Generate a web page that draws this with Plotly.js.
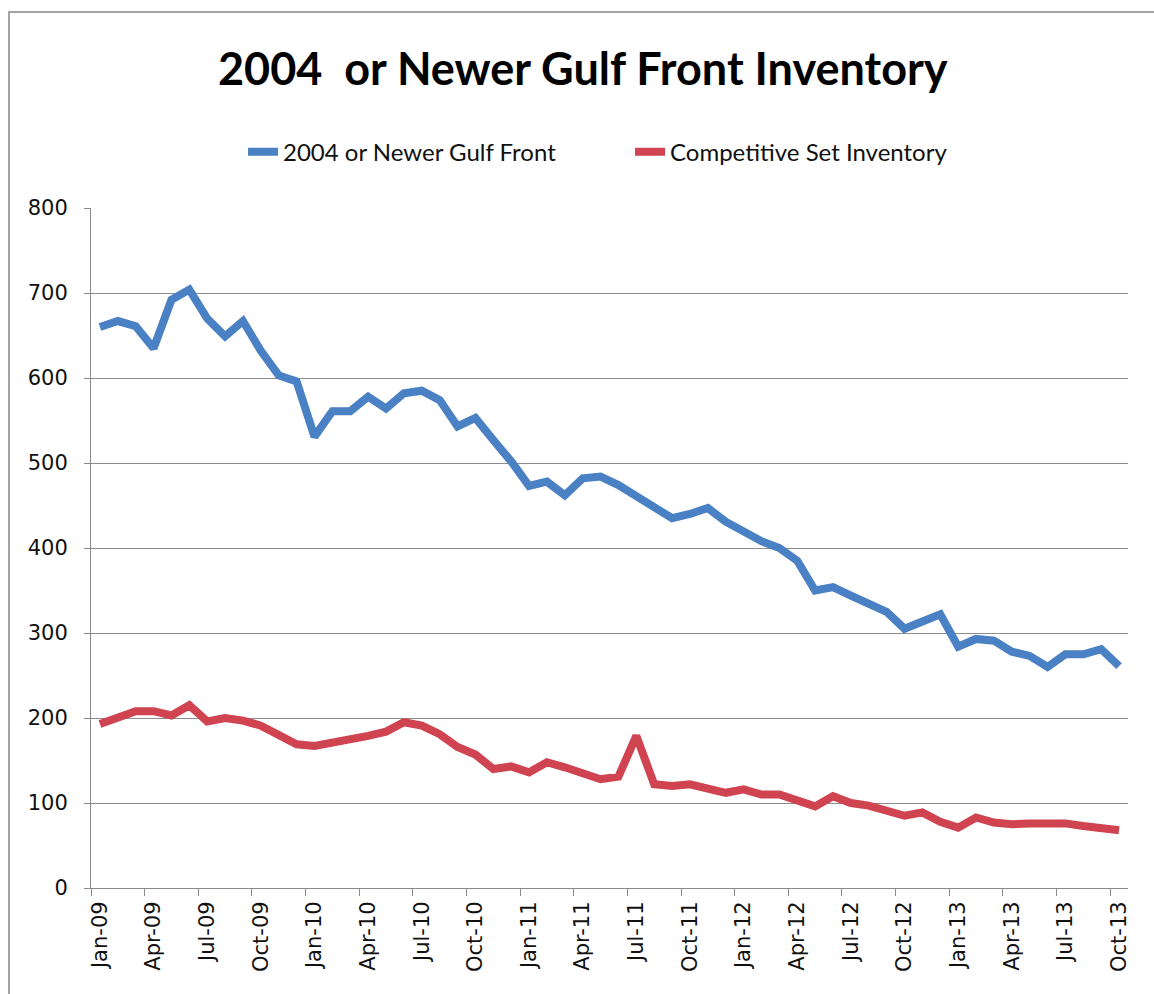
<!DOCTYPE html>
<html>
<head>
<meta charset="utf-8">
<script src="https://cdn.plot.ly/plotly-3.0.1.min.js"></script>
<style>
  html, body { margin: 0; padding: 0; background: #fff; }
  #frame { position: absolute; left: 8px; top: 11px; width: 1160px; height: 1000px; border-left: 2px solid #a3a3a3; border-top: 2px solid #a3a3a3; pointer-events: none; z-index: 5; }
  #chart { position: absolute; left: 0; top: 0; width: 1154px; height: 994px; }
</style>
</head>
<body>
<div id="chart"></div>
<div id="frame"></div>
<script>
const months = [
  "Jan-09","Feb-09","Mar-09","Apr-09","May-09","Jun-09","Jul-09","Aug-09","Sep-09","Oct-09","Nov-09","Dec-09",
  "Jan-10","Feb-10","Mar-10","Apr-10","May-10","Jun-10","Jul-10","Aug-10","Sep-10","Oct-10","Nov-10","Dec-10",
  "Jan-11","Feb-11","Mar-11","Apr-11","May-11","Jun-11","Jul-11","Aug-11","Sep-11","Oct-11","Nov-11","Dec-11",
  "Jan-12","Feb-12","Mar-12","Apr-12","May-12","Jun-12","Jul-12","Aug-12","Sep-12","Oct-12","Nov-12","Dec-12",
  "Jan-13","Feb-13","Mar-13","Apr-13","May-13","Jun-13","Jul-13","Aug-13","Sep-13","Oct-13"
];

const gulfFront2004 = [
  660, 667, 661, 635, 692, 704, 670, 649, 667, 632, 603, 596,
  531, 561, 561, 578, 564, 582, 585, 574, 543, 553, 527, 502,
  473, 478, 462, 482, 484, 474, 461, 447, 435, 440, 447, 431,
  419, 408, 400, 385, 350, 354, 344, 334, 325, 305, 313, 322,
  284, 293, 291, 278, 273, 260, 275, 275, 281, 261
];

const competitiveSet = [
  193, 200, 208, 208, 203, 215, 196, 200, 197, 191, 181, 169,
  167, 171, 173, 179, 184, 195, 191, 181, 166, 157, 140, 143,
  136, 148, 142, 136, 128, 131, 179, 122, 120, 122, 116, 112,
  116, 110, 110, 104, 96, 108, 100, 97, 91, 85, 89, 78,
  71, 83, 77, 75, 76, 77, 76, 73, 71, 68
];

const seriesNames = ["2004 or Newer Gulf Front", "Competitive Set Inventory"];
const yTicks = [0, 100, 200, 300, 400, 500, 600, 700, 800];

const FONT = "Lato, 'Open Sans', sans-serif";
const TICKFONT = "'DejaVu Sans', Verdana, sans-serif";

const traces = [
  {
    x: months, y: gulfFront2004, name: seriesNames[0], type: "scatter", mode: "lines",
    line: { color: "#4a80c4", width: 8, shape: "linear" }
  },
  {
    x: months, y: competitiveSet, name: seriesNames[1], type: "scatter", mode: "lines",
    line: { color: "#cf4450", width: 8, shape: "linear" }
  }
];

const layout = {
  width: 1154, height: 994,
  margin: { l: 91, r: 26, t: 208, b: 106, pad: 0 },
  paper_bgcolor: "#ffffff", plot_bgcolor: "#ffffff",
  font: { family: FONT, color: "#111" },
  title: {
    text: "<b>2004  or Newer Gulf Front Inventory</b>",
    font: { family: FONT, size: 45, color: "#000" },
    xref: "container", yref: "container", x: 0.505, y: 0.930, xanchor: "center", yanchor: "middle"
  },
  showlegend: true,
  legend: {
    orientation: "h", xref: "container", yref: "container",
    x: 0.2106, y: 0.847, xanchor: "left", yanchor: "middle",
    font: { family: FONT, size: 24, color: "#111" },
    bgcolor: "rgba(0,0,0,0)", itemwidth: 30, entrywidth: 342
  },
  xaxis: {
    type: "category",
    range: [-0.5, 57.5],
    tickmode: "linear", tick0: 0, dtick: 3,
    tickson: "boundaries",
    ticks: "outside", ticklen: 7, tickcolor: "#8a8a8a", tickwidth: 1,
    tickangle: -90,
    showgrid: false, zeroline: false,
    showline: true, linecolor: "#8a8a8a", linewidth: 1,
    tickfont: { family: TICKFONT, size: 21, color: "#111" },
    ticklabelstandoff: 4,
    fixedrange: true
  },
  yaxis: {
    range: [0, 800],
    tickvals: yTicks,
    ticktext: yTicks.map(String),
    ticks: "outside", ticklen: 6, tickcolor: "#8a8a8a", tickwidth: 1,
    showgrid: true, gridcolor: "#8c8c8c", gridwidth: 1,
    zeroline: false,
    showline: true, linecolor: "#8a8a8a", linewidth: 1,
    tickfont: { family: TICKFONT, size: 21, color: "#111" },
    ticklabelstandoff: 12,
    fixedrange: true
  }
};

Plotly.newPlot("chart", traces, layout, { displayModeBar: false, staticPlot: true });
</script>
</body>
</html>
